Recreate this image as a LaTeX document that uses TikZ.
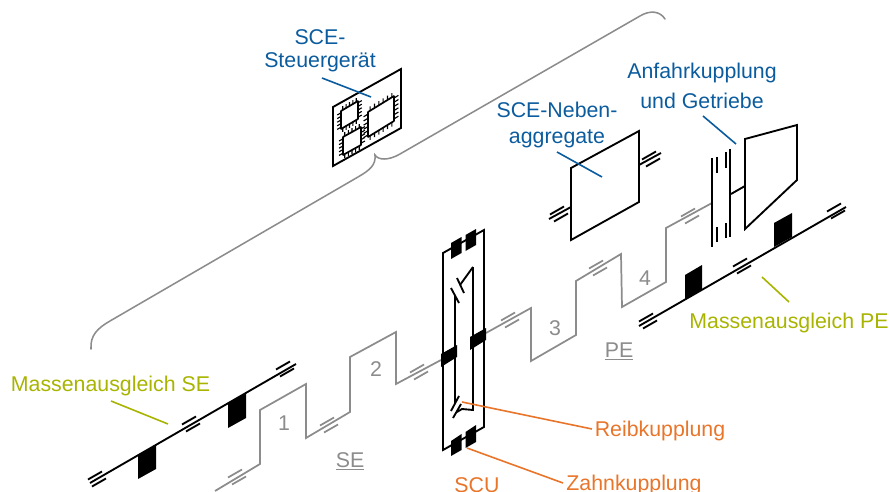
\documentclass[tikz,border=0pt]{standalone}
\usepackage{fontspec}
\setmainfont{Liberation Sans}
\definecolor{cblue}{HTML}{0B5C9E}
\definecolor{colive}{HTML}{A8B400}
\definecolor{corange}{HTML}{E8752A}
\definecolor{cgray}{HTML}{8C8C8C}
\tikzset{
  blk/.style={black,line width=1.4pt,line join=miter},
  gry/.style={cgray,line width=1.3pt,line join=miter},
  solid block/.style={fill=black,draw=none},
  brace line/.style={cgray,line width=1.15pt},
  lead/.style={line width=1.2pt},
  txt/.style={font=\fontsize{16}{18}\selectfont,inner sep=0pt,anchor=center},
  btxt/.style={txt,text=cblue},
  otxt/.style={txt,text=colive},
  rtxt/.style={txt,text=corange},
  gtxt/.style={txt,text=cgray},
}
\newcommand{\sidemark}[3]{%
  \draw[#1,shift={(#2,#3)}] (-5,7.5)--(9,-0.5) (-9,0.5)--(5,-7.5);}
% chip: origin x,y; top edge ux,uy; height h; pin fraction; pin count
\newcommand{\chipshape}[7]{%
  \begin{scope}[cm={#3,-#4,0,#5,(#1,#2)}]
    \draw[black,line width=1.3pt,rounded corners=0.3pt] (0,0)--(1,0)--(1,1)--(0,1)--cycle;
    \foreach \k in {1,...,#7}{
      \pgfmathsetmacro{\t}{(\k-0.5)/#7}
      \draw[black,line width=0.85pt] (\t,0)--(\t,-#6) (\t,1)--(\t,1+#6)
        (0,\t)--(-#6,\t) (1,\t)--(1+#6,\t);
    }
  \end{scope}}
\begin{document}
\begin{tikzpicture}[x=0.75pt,y=-0.75pt]
\useasboundingbox (0,0) rectangle (890,492);

% brace
\coordinate (braceL) at (91,349);
\coordinate (braceC) at (375,155);
\coordinate (braceR) at (665,19);
\draw[brace line,line cap=round] (braceL) .. controls (90,335) and (98,328) .. (110,321)
  -- (358,177) .. controls (370,170) and (376,165) .. (braceC)
  .. controls (378,160) and (388,161) .. (400,154)
  -- (640,16) .. controls (650,10) and (660,11) .. (braceR);

% SE shaft (gray)
\draw[gry] (215,491)--(260,464)--(260,410)--(306,384)--(306,438)--(350,412)--(350,357)--(396,332)--(396,384)--(441,360);
\foreach \p/\q in {237/477,329/425,419/372}{\sidemark{gry}{\p}{\q}}
% PE shaft (gray)
\draw[gry] (486,333)--(531,308)--(531,361)--(576,335)--(576,281)--(621,254)--(622,307)--(666,282)--(666,228)--(712,203);
\foreach \p/\q in {510/320,598/268,690/216}{\sidemark{gry}{\p}{\q}}

% balance shaft SE
\draw[blk] (90,483)--(296,364);
\foreach \p/\q in {97/479,191/424,285/369}{\sidemark{blk}{\p}{\q}}
\fill[solid block] (138,455)--(156,445)--(156,469)--(138,479)--cycle;
\fill[solid block] (228,404)--(246,393)--(246,418)--(228,428)--cycle;

% balance shaft PE
\draw[blk] (639,326)--(846,207);
\foreach \p/\q in {648/321,742/266,836/211}{\sidemark{blk}{\p}{\q}}
\fill[solid block] (685,275)--(702,265)--(702,290)--(685,299)--cycle;
\fill[solid block] (774,223)--(792,213)--(792,237)--(774,247)--cycle;

% SCU frame
\draw[blk] (443,253)--(484,230)--(484,427)--(443,450)--cycle;
\fill[solid block] (451,243)--(461.5,237)--(461.5,253)--(451,259)--cycle;
\fill[solid block] (465.5,235)--(476,229)--(476,245)--(465.5,251)--cycle;
\fill[solid block] (451,441)--(461.5,434)--(461.5,450)--(451,456)--cycle;
\fill[solid block] (465.5,432)--(476,425)--(476,442)--(465.5,448)--cycle;
% inner shafts and clutch
\draw[blk] (455,296)--(455,404);
\draw[blk] (473,267)--(473,410)--(462,409)--(457,412);
\draw[blk] (473,267)--(460,285);
\draw[blk] (457,278)--(464,293);
\draw[blk] (451,288)--(459,303);
\draw[blk] (459,396)--(451,411);
\draw[blk] (461,404)--(453,418);
\fill[solid block] (441,354)--(457,345)--(457,357)--(441,367)--cycle;
\fill[solid block] (470,337)--(486,328)--(486,340)--(470,350)--cycle;

% Nebenaggregate
\draw[blk] (571,168)--(639,131)--(639,202)--(571,240)--cycle;
\draw[blk] (639,165)--(661,153);
\sidemark{blk}{651}{159}
\draw[blk] (571,207)--(549,219);
\sidemark{blk}{559}{214}

% starting clutch and gearbox
\draw[blk] (712,158)--(712,247);
\draw[blk] (730,149)--(730,237);
\draw[blk] (717,157)--(717,173) (717,227)--(717,242);
\draw[blk] (726,152)--(726,168) (726,223)--(726,238);
\draw[blk] (731,194)--(745,186);
\draw[blk] (745,139)--(797,125)--(797,180)--(745,229)--cycle;

% control unit
\draw[blk] (333,107)--(401,69)--(401,128)--(333,166)--cycle;
\chipshape{368}{112}{26}{-16}{25}{0.17}{6}
\chipshape{341}{111}{17}{-10}{18}{0.22}{5}
\chipshape{343}{137}{18}{-10}{18}{0.22}{5}

% labels
\node[btxt] (sce1) at (320,37) {SCE-};
\node[btxt] (sce2) at (320,62) {Steuergerät};
\node[btxt] (neb1) at (557,110) {SCE-Neben-};
\node[btxt] (neb2) at (557,139) {aggregate};
\node[btxt] (anf1) at (702,73) {Anfahrkupplung};
\node[btxt] (anf2) at (702,101) {und Getriebe};
\node[otxt] (mse) at (110.5,386) {Massenausgleich SE};
\node[otxt] (mpe) at (789,323) {Massenausgleich PE};
\node[rtxt] (reib) at (660,431) {Reibkupplung};
\node[rtxt] (zahn) at (634,485) {Zahnkupplung};
\node[rtxt] (scu) at (477,485) {SCU};
\node[gtxt] (n1) at (284,423) {1};
\node[gtxt] (n2) at (376,369) {2};
\node[gtxt] (n3) at (555,328) {3};
\node[gtxt] (n4) at (645,278) {4};
\node[gtxt] (se) at (350,461) {\underline{SE}};
\node[gtxt] (pe) at (619,351) {\underline{PE}};

% leaders
\coordinate (l1a) at (322,78); \coordinate (l1b) at (371,97);
\coordinate (l2a) at (557,152); \coordinate (l2b) at (602,177);
\coordinate (l3a) at (703,116); \coordinate (l3b) at (736,144);
\coordinate (l4a) at (111,401); \coordinate (l4b) at (168,424);
\coordinate (l5a) at (762,277); \coordinate (l5b) at (789,302);
\coordinate (l6a) at (462,402); \coordinate (l6b) at (592,429);
\coordinate (l7a) at (467,448); \coordinate (l7b) at (563,483);
\draw[lead,cblue] (l1a)--(l1b) (l2a)--(l2b) (l3a)--(l3b);
\draw[lead,colive] (l4a)--(l4b) (l5a)--(l5b);
\draw[lead,corange] (l6a)--(l6b) (l7a)--(l7b);
\end{tikzpicture}
\end{document}
